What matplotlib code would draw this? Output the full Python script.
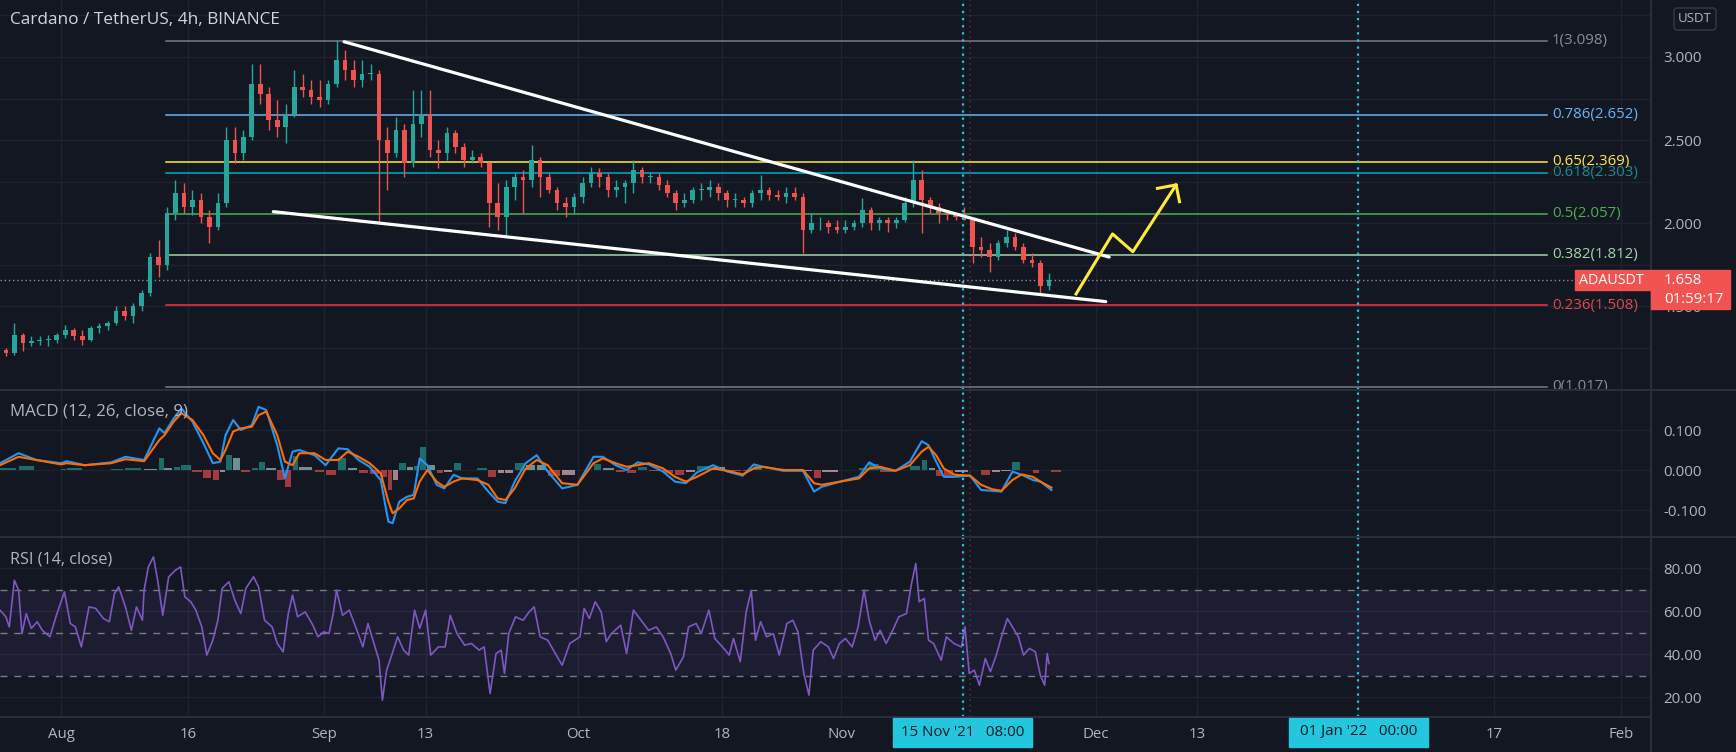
import matplotlib
matplotlib.use("Agg")
import matplotlib.pyplot as plt
import matplotlib.transforms as mtransforms
from matplotlib.patches import Rectangle, FancyBboxPatch
import numpy as np
import pandas as pd

plt.rcParams['font.family'] = ['Open Sans', 'DejaVu Sans']

# ---------------- data ----------------
origin = pd.Timestamp("2021-08-01")
candle_start = pd.Timestamp("2021-07-25")   # first daily candle

closes = [1.22, 1.33, 1.28, 1.29, 1.30, 1.30, 1.33,
          1.36, 1.32, 1.30, 1.37, 1.38, 1.40, 1.47, 1.44, 1.50, 1.58, 1.80, 1.75, 2.06, 2.18, 2.10, 2.14,
          2.04, 1.98, 2.12, 2.50, 2.42, 2.52, 2.84, 2.78, 2.62, 2.58, 2.66, 2.82, 2.80, 2.76, 2.74,
          2.84, 2.98, 2.92, 2.86, 2.90, 2.90, 2.50, 2.42, 2.56, 2.36, 2.60, 2.66, 2.44, 2.42, 2.54,
          2.46, 2.38, 2.40, 2.36, 2.12, 2.04, 2.22, 2.28, 2.26, 2.38, 2.28, 2.20, 2.12, 2.10, 2.16,
          2.24, 2.30, 2.28, 2.20, 2.22, 2.24, 2.32, 2.28, 2.28, 2.23, 2.18, 2.12, 2.14, 2.20, 2.20,
          2.22, 2.18, 2.14, 2.14, 2.12, 2.18, 2.20, 2.17, 2.16, 2.18, 2.16, 1.96, 2.00, 2.00, 1.98, 1.96,
          1.98, 2.00, 2.08, 2.00, 2.02, 2.00, 2.02, 2.12, 2.26, 2.14, 2.10, 2.06, 2.05, 2.04, 2.02,
          1.86, 1.84, 1.80, 1.88, 1.92, 1.86, 1.78, 1.76, 1.62, 1.658]
highs = [1.25, 1.40, 1.34, 1.32, 1.32, 1.33, 1.34,
         1.39, 1.37, 1.36, 1.38, 1.40, 1.41, 1.50, 1.50, 1.52, 1.60, 1.82, 1.90, 2.10, 2.26, 2.24, 2.20,
         2.18, 2.08, 2.18, 2.58, 2.58, 2.56, 2.96, 2.96, 2.82, 2.74, 2.72, 2.92, 2.90, 2.86, 2.86,
         2.86, 3.10, 3.04, 2.98, 2.98, 2.96, 2.92, 2.58, 2.64, 2.60, 2.80, 2.80, 2.80, 2.50, 2.58,
         2.56, 2.48, 2.44, 2.42, 2.37, 2.24, 2.26, 2.30, 2.32, 2.47, 2.40, 2.30, 2.22, 2.16, 2.18,
         2.28, 2.34, 2.33, 2.30, 2.26, 2.26, 2.38, 2.34, 2.31, 2.30, 2.26, 2.20, 2.18, 2.22, 2.24,
         2.26, 2.24, 2.20, 2.18, 2.16, 2.20, 2.29, 2.22, 2.20, 2.22, 2.22, 2.18, 2.06, 2.04, 2.02, 2.02,
         2.02, 2.02, 2.15, 2.10, 2.04, 2.04, 2.04, 2.16, 2.38, 2.32, 2.16, 2.12, 2.08, 2.07, 2.10,
         2.03, 1.92, 1.88, 1.90, 1.96, 1.94, 1.88, 1.82, 1.78, 1.70]
lows = [1.20, 1.21, 1.23, 1.26, 1.27, 1.26, 1.28,
        1.31, 1.30, 1.27, 1.29, 1.34, 1.36, 1.39, 1.42, 1.40, 1.47, 1.56, 1.68, 1.72, 2.02, 2.06, 2.05,
        2.00, 1.88, 1.96, 2.10, 2.36, 2.38, 2.50, 2.72, 2.56, 2.52, 2.48, 2.64, 2.76, 2.72, 2.70,
        2.72, 2.82, 2.86, 2.82, 2.82, 2.86, 2.00, 2.20, 2.40, 2.28, 2.34, 2.52, 2.40, 2.33, 2.38,
        2.42, 2.34, 2.36, 2.34, 1.98, 1.96, 1.92, 2.14, 2.06, 2.22, 2.16, 2.18, 2.08, 2.04, 2.06,
        2.12, 2.22, 2.22, 2.16, 2.16, 2.12, 2.18, 2.24, 2.24, 2.20, 2.16, 2.08, 2.10, 2.12, 2.14,
        2.16, 2.14, 2.10, 2.10, 2.10, 2.10, 2.14, 2.14, 2.14, 2.12, 2.14, 1.82, 1.94, 1.96, 1.94, 1.94,
        1.94, 1.96, 1.98, 1.96, 1.96, 1.95, 1.97, 2.01, 2.10, 1.94, 2.06, 2.00, 2.02, 2.02, 2.02,
        1.76, 1.80, 1.71, 1.78, 1.86, 1.84, 1.76, 1.74, 1.58, 1.60]
first_open = 1.24
opens = [first_open] + closes[:-1]          # 24/7 market: open = previous close
last_price = 1.658

# MACD (days since 1 Aug 2021)
macd_days = [-7.2, -5.0, -2.9, 0.0, 0.7, 2.8, 5.9, 7.6, 9.8, 11.6, 12.2, 13.3, 14.2, 15.5, 16.8, 17.9,
             18.8, 19.4, 20.3, 21.2, 22.5, 23.3, 24.2, 25.5, 26.4, 27.3, 28.1, 29.9, 31.2, 32.7, 33.8,
             35.1, 36.4, 37.7, 38.6, 39.1, 39.9, 40.8, 41.6, 42.3, 43.2, 44.3, 45.2, 46.3, 47.3, 49.1,
             50.4, 51.5, 52.4, 53.5, 54.8, 56.1, 57.4, 59.1, 60.9, 62.8, 63.9, 65.4, 66.7, 68.0, 69.3,
             71.0, 72.4, 73.7, 75.0, 76.9, 78.6, 80.4, 81.7, 82.8, 85.2, 87.5, 88.8, 89.7, 91.9, 94.1,
             95.3, 96.6, 98.4, 100.1, 101.5, 102.3, 103.2, 104.1, 105.4, 107.2, 108.5, 109.8, 110.9,
             112.2, 113.3, 114.6, 115.5, 116.8]
macd_line = [0.017, 0.042, 0.025, 0.017, 0.022, 0.012, 0.019, 0.033, 0.025, 0.104, 0.092, 0.129, 0.154,
             0.121, 0.067, 0.017, 0.021, 0.087, 0.125, 0.100, 0.112, 0.158, 0.150, 0.062, -0.021, 0.046,
             0.050, 0.037, 0.012, 0.054, 0.052, 0.025, 0.008, -0.025, -0.129, -0.133, -0.079, -0.067,
             -0.062, 0.029, 0.012, -0.037, -0.046, -0.012, -0.021, -0.021, -0.054, -0.079, -0.083,
             -0.029, 0.017, 0.037, -0.004, -0.046, -0.037, 0.033, 0.033, 0.012, 0.000, 0.019, 0.014,
             -0.004, -0.029, -0.033, -0.006, 0.012, -0.004, -0.014, 0.014, 0.008, -0.002, -0.002,
             -0.054, -0.042, -0.029, -0.017, 0.019, 0.004, -0.002, 0.021, 0.072, 0.062, 0.021, -0.017,
             -0.017, -0.014, -0.050, -0.052, -0.054, -0.004, -0.012, -0.025, -0.029, -0.050]
signal_line = [0.012, 0.033, 0.025, 0.014, 0.017, 0.012, 0.017, 0.027, 0.022, 0.075, 0.087, 0.121, 0.142,
               0.125, 0.087, 0.042, 0.025, 0.050, 0.096, 0.104, 0.108, 0.137, 0.146, 0.087, 0.021, 0.012,
               0.042, 0.042, 0.025, 0.025, 0.046, 0.033, 0.017, -0.008, -0.079, -0.108, -0.096, -0.075,
               -0.071, -0.029, 0.000, -0.029, -0.042, -0.029, -0.021, -0.025, -0.037, -0.071, -0.075,
               -0.046, 0.004, 0.025, 0.012, -0.033, -0.037, 0.017, 0.029, 0.017, 0.008, 0.012, 0.017,
               0.004, -0.017, -0.029, -0.017, 0.004, -0.002, -0.011, 0.004, 0.008, 0.000, 0.000,
               -0.033, -0.037, -0.029, -0.021, 0.004, 0.008, -0.002, 0.012, 0.046, 0.058, 0.037, 0.004,
               -0.012, -0.014, -0.037, -0.048, -0.052, -0.025, -0.011, -0.017, -0.029, -0.044]

# RSI (days since 1 Aug 2021)
rsi_days = [-7.2, -6.5, -6.1, -5.5, -5.0, -4.6, -4.1, -3.5, -2.8, -2.2, -1.3, -0.6, 0.4, 1.1, 1.7, 2.4,
            3.3, 4.1, 5.0, 5.7, 6.3, 6.8, 7.6, 8.3, 8.9, 9.6, 9.8, 10.3, 10.9, 11.4, 12.0, 12.7, 13.5,
            14.1, 14.6, 15.3, 15.9, 16.6, 17.2, 17.9, 18.5, 19.0, 19.8, 20.5, 21.2, 21.8, 22.7, 23.3,
            24.0, 24.9, 25.5, 26.2, 26.8, 27.3, 27.9, 28.8, 29.7, 30.3, 31.0, 31.6, 32.1, 32.5, 33.2,
            34.0, 34.9, 35.6, 36.2, 36.9, 37.5, 37.9, 38.4, 38.8, 39.7, 40.4, 41.0, 41.7, 42.3, 43.0,
            43.6, 44.5, 45.3, 45.9, 46.7, 47.6, 48.4, 49.3, 49.9, 50.6, 51.3, 51.9, 52.3, 52.8, 53.6,
            54.5, 55.2, 55.8, 56.5, 57.4, 58.3, 59.1, 60.0, 60.6, 61.2, 61.7, 62.3, 63.0, 63.7, 64.3,
            64.9, 66.0, 66.7, 67.5, 68.4, 69.3, 70.2, 71.0, 71.9, 72.5, 73.4, 74.0, 74.9, 75.5, 76.4,
            77.1, 78.0, 78.8, 79.3, 80.1, 80.8, 81.4, 81.9, 82.5, 83.2, 84.0, 84.7, 85.6, 86.3, 86.9,
            87.6, 88.2, 88.7, 89.6, 90.5, 91.1, 91.8, 92.5, 93.3, 94.0, 94.7, 95.3, 96.0, 96.6, 97.3,
            97.9, 98.8, 99.7, 100.3, 100.8, 101.2, 101.8, 102.3, 102.9, 103.8, 104.4, 105.3, 106.2,
            106.6, 107.1, 107.7, 108.3, 109.0, 109.6, 110.3, 110.9, 111.6, 112.2, 112.9, 113.5, 114.2,
            114.9, 115.5, 116.0, 116.3, 116.5]
rsi_vals = [60.4, 57.3, 52.6, 74.3, 69.7, 49.5, 58.8, 51.9, 55.0, 51.0, 48.0, 57.3, 68.9, 54.2, 52.6, 43.3,
            61.9, 61.2, 56.5, 55.0, 68.1, 71.2, 61.9, 51.0, 61.9, 55.7, 69.7, 80.5, 85.2, 74.3, 58.0, 75.9,
            79.0, 80.5, 66.6, 64.3, 60.4, 52.6, 39.5, 46.4, 55.7, 70.5, 73.6, 65.0, 58.8, 70.5, 75.9, 71.2,
            55.7, 52.6, 44.9, 41.0, 58.8, 67.4, 57.3, 59.6, 53.4, 48.0, 50.3, 49.5, 58.8, 69.7, 58.0,
            60.4, 51.0, 43.3, 54.2, 44.9, 37.1, 18.5, 32.5, 37.1, 48.0, 41.8, 39.5, 60.4, 51.9, 60.4,
            39.5, 43.3, 43.3, 58.0, 49.5, 44.1, 44.9, 41.8, 43.3, 21.6, 40.2, 41.8, 31.0, 49.5, 57.3,
            55.7, 59.6, 61.9, 48.0, 46.4, 40.2, 34.8, 44.9, 46.4, 48.0, 61.2, 56.5, 64.3, 59.6, 45.7,
            49.5, 53.4, 40.2, 60.4, 55.7, 51.0, 52.6, 48.0, 40.2, 32.5, 38.7, 52.6, 54.2, 49.5, 60.4,
            47.2, 43.3, 39.5, 47.2, 36.4, 59.6, 69.5, 46.4, 55.0, 48.0, 49.5, 39.5, 54.2, 55.7, 50.3,
            30.9, 20.9, 41.8, 45.7, 43.3, 37.9, 44.9, 47.2, 43.3, 52.6, 69.7, 55.7, 46.4, 51.0, 44.9,
            49.5, 57.3, 58.8, 72.8, 82.1, 64.3, 65.8, 46.4, 44.9, 37.1, 48.0, 44.9, 43.3,
            52.6, 31.0, 32.5, 25.5, 37.9, 31.8, 39.5, 48.0, 56.5, 52.6, 48.0, 39.5, 42.6,
            41.0, 30.0, 25.5, 40.2, 35.6]

# Fibonacci retracement levels
fib_ratios = ["1", "0.786", "0.65", "0.618", "0.5", "0.382", "0.236", "0"]
fib_prices = [3.098, 2.652, 2.369, 2.303, 2.057, 1.812, 1.508, 1.017]
fib_colors = ["#787b86", "#64b5f6", "#ffeb3b", "#00acc1", "#4caf50", "#a5d6a7", "#f23645", "#787b86"]
fib_text_colors = ["#8a8d96", "#64b5f6", "#ffeb3b", "#0f8f8f", "#4caf50", "#a5d6a7", "#e04848", "#8a8d96"]
fib_start_day, fib_end_day, fib_label_day = 12.44, 175.2, 175.8

# drawn trend lines and arrow (day, price anchors)
upper_days, upper_prices = [33.37, 123.6], [3.092, 1.797]
lower_days, lower_prices = [25.04, 123.2], [2.070, 1.529]
arrow_days, arrow_prices = [119.7, 124.0, 126.4, 131.5], [1.575, 1.936, 1.829, 2.231]
head_days, head_prices = [129.3, 131.5, 131.9], [2.210, 2.231, 2.130]

# time axis
tick_dates = ["2021-08-01", "2021-08-16", "2021-09-01", "2021-09-13", "2021-10-01", "2021-10-18",
              "2021-11-01", "2021-12-01", "2021-12-13", "2022-01-17", "2022-02-01"]
tick_labels = ["Aug", "16", "Sep", "13", "Oct", "18", "Nov", "Dec", "13", "17", "Feb"]
marker_times = ["2021-11-15 08:00", "2022-01-01 00:00"]
marker_labels = ["15 Nov '21   08:00", "01 Jan '22   00:00"]

# ---------------- styling ----------------
BG = "#131722"
GRID = "#1f2330"
SEP = "#2a2e39"
TXT = "#b2b5be"
UP, DOWN = "#26a69a", "#ef5350"
W, H = 1736, 752
PLOT_W = 1651
LBL = 10.8


def day_of(ts):
    return (pd.Timestamp(ts) - origin) / pd.Timedelta(days=1)


XMIN, XMAX = -61 / 8.48, (PLOT_W - 61) / 8.48

fig = plt.figure(figsize=(W / 100, H / 100), dpi=100, facecolor=BG)
ax_p = fig.add_axes([0, 1 - 390 / H, PLOT_W / W, 390 / H])
ax_m = fig.add_axes([0, 1 - 537 / H, PLOT_W / W, 147 / H])
ax_r = fig.add_axes([0, 1 - 717 / H, PLOT_W / W, 180 / H])

tick_days = [day_of(d) for d in tick_dates]
grid_days = tick_days + [day_of(m) for m in marker_times]

for ax in (ax_p, ax_m, ax_r):
    ax.set_facecolor(BG)
    ax.set_xlim(XMIN, XMAX)
    for s in ax.spines.values():
        s.set_visible(False)
    ax.spines['right'].set_visible(True)
    ax.spines['right'].set_color(SEP)
    ax.yaxis.tick_right()
    ax.tick_params(axis='y', length=0, pad=9.0, labelcolor=TXT, labelsize=LBL)
    ax.tick_params(axis='x', length=0)
    for gd in grid_days:
        ax.axvline(gd, color=GRID, lw=1, zorder=0)

# ---------------- price panel ----------------
ax_p.set_ylim(0.9976, 3.3427)
ax_p.set_yticks([1.5, 2.0, 2.5, 3.0])
ax_p.set_yticklabels(["1.500", "2.000", "2.500", "3.000"])
ax_p.set_xticks([])
for yv in [1.25, 1.5, 1.75, 2.0, 2.25, 2.5, 2.75, 3.0, 3.25]:
    ax_p.axhline(yv, color=GRID, lw=1, zorder=0)

cx = np.array([day_of(candle_start) + i + 0.5 for i in range(len(closes))])
o, h, l, c = map(np.array, (opens, highs, lows, closes))
col = np.where(c >= o, UP, DOWN)
ax_p.vlines(cx, l, h, colors=col, lw=1.0, zorder=3)
ax_p.bar(cx, np.maximum(np.abs(c - o), 0.004), bottom=np.minimum(o, c), width=0.55,
         color=col, zorder=4, linewidth=0)

for r, pr, lc, tc in zip(fib_ratios, fib_prices, fib_colors, fib_text_colors):
    ax_p.plot([fib_start_day, fib_end_day], [pr, pr], color=lc, lw=1.1, zorder=2)
    ax_p.text(fib_label_day, pr, f"{r}({pr:.3f})", color=tc, fontsize=LBL, va='center', ha='left',
              clip_on=True, zorder=5)

ax_p.axhline(last_price, color="#8d909a", lw=1, ls=(0, (1, 2)), zorder=2)
ax_p.plot(upper_days, upper_prices, color="white", lw=2.3, solid_capstyle='round', zorder=6)
ax_p.plot(lower_days, lower_prices, color="white", lw=2.3, solid_capstyle='round', zorder=6)
ax_p.plot(arrow_days, arrow_prices, color="#ffeb3b", lw=2.2, zorder=6)
ax_p.plot(head_days, head_prices, color="#ffeb3b", lw=2.2, zorder=6)

ax_p.text(10 / PLOT_W, 1 - 20 / 390, "Cardano / TetherUS, 4h, BINANCE", transform=ax_p.transAxes,
          color="#d1d4dc", fontsize=12.4, va='center', ha='left')

# ---------------- MACD panel ----------------
ax_m.set_ylim(-0.1675, 0.2)
ax_m.set_yticks([-0.1, 0.0, 0.1])
ax_m.set_yticklabels(["-0.100", "0.000", "0.100"])
ax_m.set_xticks([])
for yv in [-0.1, 0.0, 0.1]:
    ax_m.axhline(yv, color=GRID, lw=1, zorder=0)
md = np.array(macd_days)
mv = np.array(macd_line)
sv = np.array(signal_line)
hist = mv - sv
widths = np.append(np.diff(md), 1.3)
hcols = []
for i, hv in enumerate(hist):
    prev = hist[i - 1] if i > 0 else hv
    if hv >= 0:
        hcols.append("#26a69a" if hv >= prev else "#b2dfdb")
    else:
        hcols.append("#ffcdd2" if hv >= prev else "#ff5252")
ax_m.bar(md, hist, width=widths * 0.85, align='edge', color=hcols, alpha=0.6, linewidth=0, zorder=2)
ax_m.plot(md, mv, color="#2196f3", lw=1.5, zorder=3)
ax_m.plot(md, sv, color="#ff6d00", lw=1.5, zorder=3)
ax_m.text(10 / PLOT_W, 1 - 22 / 147, "MACD (12, 26, close, 9)", transform=ax_m.transAxes,
          color=TXT, fontsize=12.2, va='center', ha='left')

# ---------------- RSI panel ----------------
ax_r.set_ylim(10.70, 94.42)
ax_r.set_yticks([20, 40, 60, 80])
ax_r.set_yticklabels(["20.00", "40.00", "60.00", "80.00"])
for yv in [20, 40, 60, 80]:
    ax_r.axhline(yv, color=GRID, lw=1, zorder=0)
ax_r.axhspan(30, 70, color="#7e57c2", alpha=0.10, lw=0, zorder=1)
for yv in [30, 50, 70]:
    ax_r.axhline(yv, color="#787b86", lw=1, ls=(0, (5, 5)), zorder=2)
ax_r.plot(rsi_days, rsi_vals, color="#7e57c2", lw=1.2, zorder=3)
ax_r.text(10 / PLOT_W, 1 - 22 / 180, "RSI (14, close)", transform=ax_r.transAxes,
          color=TXT, fontsize=11.6, va='center', ha='left')
ax_r.set_xticks(tick_days)
ax_r.set_xticklabels(tick_labels)
ax_r.tick_params(axis='x', colors=TXT, labelsize=LBL, pad=7)

# vertical markers across panels
for ax in (ax_p, ax_m, ax_r):
    for m in marker_times:
        ax.axvline(day_of(m), color="#22c7dd", lw=1.6, ls=(0, (1, 2.2)), zorder=7)
    ax.axvline(107.2, color="#5a2733", lw=1.2, ls=(0, (1, 2.2)), zorder=1)

# ---------------- overlay boxes (pixel coordinates) ----------------
fig.canvas.draw()
ident = mtransforms.IdentityTransform()


def px_rect(x0, y0, x1, y1, **kw):
    r = Rectangle((x0, H - y1), x1 - x0, y1 - y0, transform=ident, **kw)
    fig.add_artist(r)
    return r


def px_text(x, y, s, **kw):
    fig.text(x / W, 1 - y / H, s, **kw)


# separators
fig.add_artist(plt.Line2D([0, W], [H - 390, H - 390], transform=ident, color=SEP, lw=1.5))
fig.add_artist(plt.Line2D([0, W], [H - 537, H - 537], transform=ident, color=SEP, lw=1.5))
fig.add_artist(plt.Line2D([0, PLOT_W], [H - 717, H - 717], transform=ident, color=SEP, lw=1.5))
fig.add_artist(plt.Line2D([PLOT_W, PLOT_W], [0, H], transform=ident, color=SEP, lw=1.5))

# time markers boxes
for m, lab in zip(marker_times, marker_labels):
    xd = ax_r.transData.transform((day_of(m), 50))[0]
    px_rect(xd - 69.5, 718, xd + 69.5, 747, color="#22c7dd", zorder=10)
    px_text(xd, 732, lab, color="#131722", fontsize=LBL, ha='center', va='center', zorder=11)

# price label boxes
yp = H - ax_p.transData.transform((0, last_price))[1]
px_rect(1575, yp - 10, PLOT_W, yp + 10, color="#f05350", zorder=10)
px_rect(PLOT_W, yp - 10, 1730, yp + 29, color="#f05350", zorder=10)
px_text(1579, yp, "ADAUSDT", color="white", fontsize=10.3, ha='left', va='center', zorder=11)
px_text(1664, yp, f"{last_price:.3f}", color="white", fontsize=LBL, ha='left', va='center', zorder=11)
px_text(1664, yp + 19, "01:59:17", color="white", fontsize=LBL, ha='left', va='center', zorder=11)

# USDT currency box
fig.add_artist(FancyBboxPatch((1674, H - 30), 42, 22, boxstyle="round,pad=0,rounding_size=3",
                              transform=ident, facecolor=BG, edgecolor="#363a45", lw=1, zorder=10))
px_text(1695, 19, "USDT", color=TXT, fontsize=9.5, ha='center', va='center', zorder=11)

fig.savefig("out.png", dpi=100, facecolor=BG)
